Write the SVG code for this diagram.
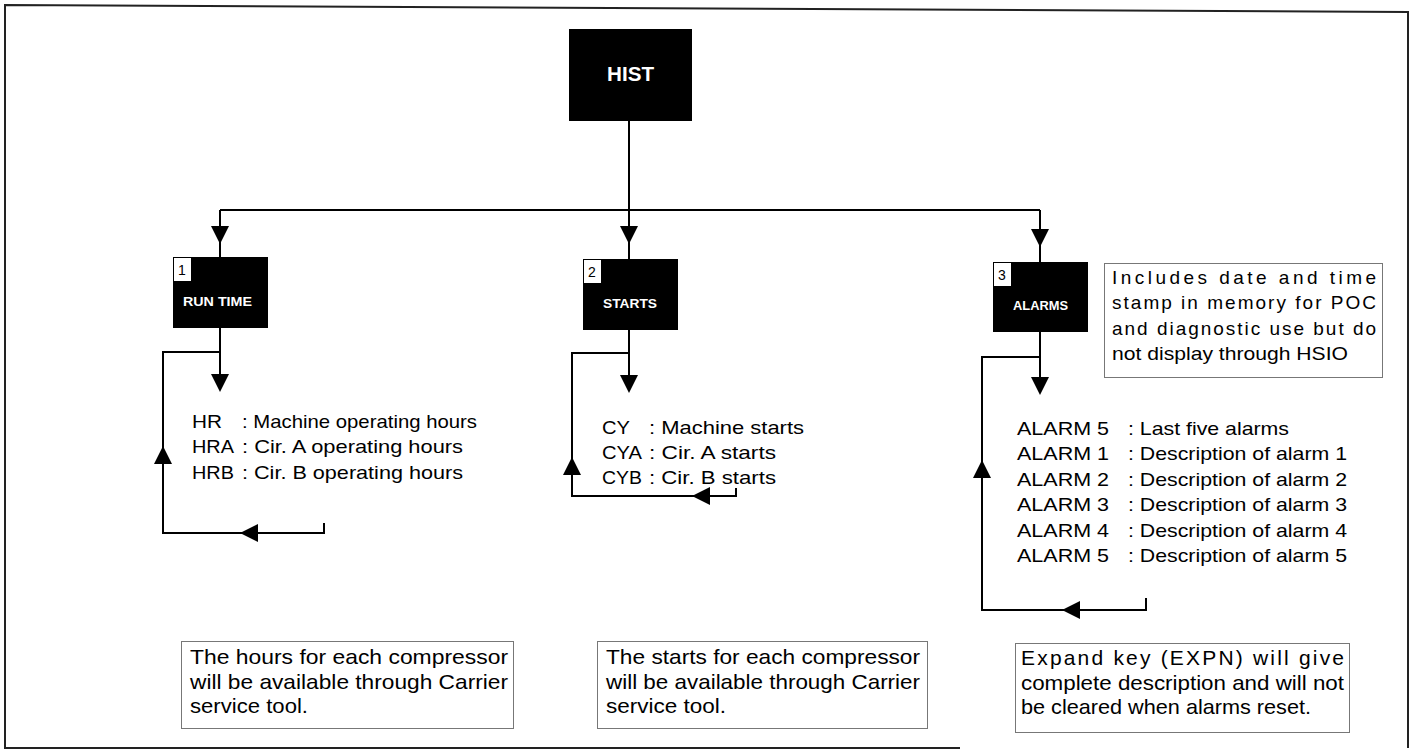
<svg xmlns="http://www.w3.org/2000/svg" width="1411" height="753" viewBox="0 0 1411 753">
<defs>
<style>
.t{font-family:"Liberation Sans",Arial,Helvetica,sans-serif;font-size:19px;fill:#000}
.nt{font-family:"Liberation Sans",Arial,Helvetica,sans-serif;font-size:21px;fill:#000}
.w{font-family:"Liberation Sans",Arial,Helvetica,sans-serif;font-weight:bold;fill:#fff}
.n{font-family:"Liberation Sans",Arial,Helvetica,sans-serif;font-size:14px;fill:#000}
.ln{stroke:#000;stroke-width:2;fill:none}
.blk{fill:#000}
.num{fill:#fff;stroke:#000;stroke-width:1}
.note{fill:#fff;stroke:#777;stroke-width:1}
.frame{fill:none;stroke:#222;stroke-width:2}
</style>
<path id="ah" d="M0,0 L-9,-18 L9,-18 Z" fill="#000"/>
</defs>
<rect width="1411" height="753" fill="#fff"/>
<path class="frame" d="M960,748 L5,748 L5,5 L1408,12 L1408,748"/>

<g id="connectors">
<path class="ln" d="M629,121 V259"/>
<path class="ln" d="M220,210 H1040"/>
<path class="ln" d="M220,210 V257"/>
<path class="ln" d="M1040,210 V262"/>
<use href="#ah" transform="translate(220,244)"/>
<use href="#ah" transform="translate(629,244)"/>
<use href="#ah" transform="translate(1040,247)"/>
<path class="ln" d="M220,328 V380"/>
<path class="ln" d="M220,352 H163 V533 H324 V523"/>
<use href="#ah" transform="translate(220,392)"/>
<use href="#ah" transform="translate(163,446) rotate(180)"/>
<use href="#ah" transform="translate(240,533) rotate(90)"/>
<path class="ln" d="M629,330 V380"/>
<path class="ln" d="M629,353 H572 V496 H736 V488"/>
<use href="#ah" transform="translate(629,393)"/>
<use href="#ah" transform="translate(572,457) rotate(180)"/>
<use href="#ah" transform="translate(692,496) rotate(90)"/>
<path class="ln" d="M1040,332 V382"/>
<path class="ln" d="M1040,357 H982 V610 H1146 V598"/>
<use href="#ah" transform="translate(1040,395)"/>
<use href="#ah" transform="translate(982,460) rotate(180)"/>
<use href="#ah" transform="translate(1062,610) rotate(90)"/>
</g>

<g id="hist">
<rect class="blk" x="569" y="29" width="123" height="92"/>
<text class="w" x="607" y="81" font-size="21" textLength="47" lengthAdjust="spacingAndGlyphs">HIST</text>
</g>

<g id="runtime">
<rect class="blk" x="173" y="257" width="95" height="71"/>
<rect class="num" x="173.5" y="257.5" width="18" height="24"/>
<text class="n" x="178" y="275">1</text>
<text class="w" x="183" y="306" font-size="12" textLength="69" lengthAdjust="spacingAndGlyphs">RUN TIME</text>
</g>

<g id="starts">
<rect class="blk" x="583" y="259" width="95" height="71"/>
<rect class="num" x="583.5" y="259.5" width="18" height="24"/>
<text class="n" x="588" y="277">2</text>
<text class="w" x="603" y="308" font-size="12" textLength="54" lengthAdjust="spacingAndGlyphs">STARTS</text>
</g>

<g id="alarms">
<rect class="blk" x="993" y="262" width="95" height="70"/>
<rect class="num" x="993.5" y="262.5" width="18" height="24"/>
<text class="n" x="998" y="280">3</text>
<text class="w" x="1013" y="310" font-size="12" textLength="55" lengthAdjust="spacingAndGlyphs">ALARMS</text>
</g>

<g id="runtime-list">
<text class="t" x="192" y="428" textLength="30" lengthAdjust="spacingAndGlyphs">HR</text>
<text class="t" x="242" y="428" textLength="235" lengthAdjust="spacingAndGlyphs">: Machine operating hours</text>
<text class="t" x="192" y="453" textLength="42" lengthAdjust="spacingAndGlyphs">HRA</text>
<text class="t" x="242" y="453" textLength="221" lengthAdjust="spacingAndGlyphs">: Cir. A operating hours</text>
<text class="t" x="192" y="479" textLength="42" lengthAdjust="spacingAndGlyphs">HRB</text>
<text class="t" x="242" y="479" textLength="221" lengthAdjust="spacingAndGlyphs">: Cir. B operating hours</text>
</g>

<g id="starts-list">
<text class="t" x="602" y="434" textLength="28" lengthAdjust="spacingAndGlyphs">CY</text>
<text class="t" x="649" y="434" textLength="155" lengthAdjust="spacingAndGlyphs">: Machine starts</text>
<text class="t" x="602" y="459" textLength="40" lengthAdjust="spacingAndGlyphs">CYA</text>
<text class="t" x="649" y="459" textLength="127" lengthAdjust="spacingAndGlyphs">: Cir. A starts</text>
<text class="t" x="602" y="484" textLength="40" lengthAdjust="spacingAndGlyphs">CYB</text>
<text class="t" x="649" y="484" textLength="127" lengthAdjust="spacingAndGlyphs">: Cir. B starts</text>
</g>

<g id="alarms-list">
<text class="t" x="1017" y="435" textLength="92" lengthAdjust="spacingAndGlyphs">ALARM 5</text>
<text class="t" x="1128" y="435" textLength="161" lengthAdjust="spacingAndGlyphs">: Last five alarms</text>
<text class="t" x="1017" y="460" textLength="92" lengthAdjust="spacingAndGlyphs">ALARM 1</text>
<text class="t" x="1128" y="460" textLength="219" lengthAdjust="spacingAndGlyphs">: Description of alarm 1</text>
<text class="t" x="1017" y="486" textLength="92" lengthAdjust="spacingAndGlyphs">ALARM 2</text>
<text class="t" x="1128" y="486" textLength="219" lengthAdjust="spacingAndGlyphs">: Description of alarm 2</text>
<text class="t" x="1017" y="511" textLength="92" lengthAdjust="spacingAndGlyphs">ALARM 3</text>
<text class="t" x="1128" y="511" textLength="219" lengthAdjust="spacingAndGlyphs">: Description of alarm 3</text>
<text class="t" x="1017" y="537" textLength="92" lengthAdjust="spacingAndGlyphs">ALARM 4</text>
<text class="t" x="1128" y="537" textLength="219" lengthAdjust="spacingAndGlyphs">: Description of alarm 4</text>
<text class="t" x="1017" y="562" textLength="92" lengthAdjust="spacingAndGlyphs">ALARM 5</text>
<text class="t" x="1128" y="562" textLength="219" lengthAdjust="spacingAndGlyphs">: Description of alarm 5</text>
</g>

<g id="note-alarms">
<rect class="note" x="1104.5" y="263.5" width="278" height="114"/>
<text class="t" x="1112" y="284" textLength="264" lengthAdjust="spacing">Includes date and time</text>
<text class="t" x="1112" y="309" textLength="264" lengthAdjust="spacing">stamp in memory for POC</text>
<text class="t" x="1112" y="335" textLength="264" lengthAdjust="spacing">and diagnostic use but do</text>
<text class="t" x="1112" y="360" textLength="236" lengthAdjust="spacingAndGlyphs">not display through HSIO</text>
</g>

<g id="note-runtime">
<rect class="note" x="181.5" y="641.5" width="332" height="87"/>
<text class="nt" x="190" y="664" textLength="318" lengthAdjust="spacingAndGlyphs">The hours for each compressor</text>
<text class="nt" x="190" y="689" textLength="318" lengthAdjust="spacingAndGlyphs">will be available through Carrier</text>
<text class="nt" x="190" y="713" textLength="118" lengthAdjust="spacingAndGlyphs">service tool.</text>
</g>

<g id="note-starts">
<rect class="note" x="597.5" y="641.5" width="330" height="87"/>
<text class="nt" x="606" y="664" textLength="314" lengthAdjust="spacingAndGlyphs">The starts for each compressor</text>
<text class="nt" x="606" y="689" textLength="314" lengthAdjust="spacingAndGlyphs">will be available through Carrier</text>
<text class="nt" x="606" y="713" textLength="120" lengthAdjust="spacingAndGlyphs">service tool.</text>
</g>

<g id="note-expn">
<rect class="note" x="1015.5" y="643.5" width="334" height="89"/>
<text class="nt" x="1021" y="665" textLength="323" lengthAdjust="spacing">Expand key (EXPN) will give</text>
<text class="nt" x="1021" y="690" textLength="323" lengthAdjust="spacingAndGlyphs">complete description and will not</text>
<text class="nt" x="1021" y="714" textLength="290" lengthAdjust="spacingAndGlyphs">be cleared when alarms reset.</text>
</g>
</svg>
